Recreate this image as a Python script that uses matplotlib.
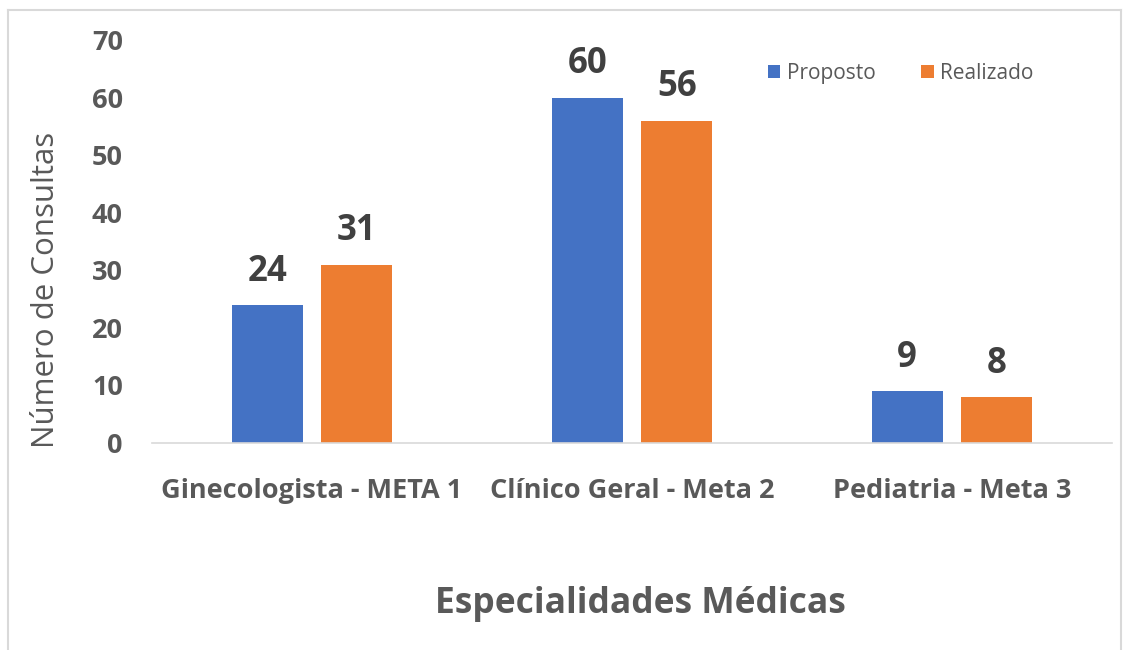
import numpy as np
import matplotlib.pyplot as plt
from matplotlib.lines import Line2D

plt.rcParams['font.family'] = ['Open Sans', 'DejaVu Sans']

categorias = ['Ginecologista - META 1', 'Clínico Geral - Meta 2', 'Pediatria - Meta 3']
proposto = [24, 60, 9]
realizado = [31, 56, 8]
yticks = [0, 10, 20, 30, 40, 50, 60, 70]

azul = '#4472C4'
laranja = '#ED7D31'
cinza = '#595959'

fig = plt.figure(figsize=(11.31, 6.5), dpi=100)
ax = fig.add_axes([152/1131, 1 - 443/650, 960/1131, 403/650])

x = np.arange(len(categorias))
w = 0.222
off = 0.14
b1 = ax.bar(x - off, proposto, w, color=azul, label='Proposto')
b2 = ax.bar(x + off, realizado, w, color=laranja, label='Realizado')

for bars in (b1, b2):
    for r in bars:
        ax.annotate(f'{r.get_height():g}', (r.get_x() + r.get_width()/2, r.get_height()),
                    xytext=(0, 11), textcoords='offset points', ha='center', va='bottom',
                    fontsize=25, fontweight='bold', color='#404040')

ax.set_xlim(-0.5, 2.5)
ax.set_ylim(0, 70)
ax.set_yticks(yticks)
ax.set_xticks(x)
ax.set_xticklabels(categorias)
ax.tick_params(length=0, colors=cinza)
for lab in ax.get_yticklabels():
    lab.set_fontsize(19.5)
    lab.set_fontweight('bold')
for lab in ax.get_xticklabels():
    lab.set_fontsize(19.5)
    lab.set_fontweight('bold')
ax.tick_params(axis='y', pad=21)
ax.tick_params(axis='x', pad=25)

for s in ['top', 'right', 'left']:
    ax.spines[s].set_visible(False)
ax.spines['bottom'].set_color('#D9D9D9')
ax.spines['bottom'].set_linewidth(1.2)

ax.set_ylabel('Número de Consultas', fontsize=22.5, color=cinza)
ax.yaxis.set_label_coords(-0.095, 0.38)
ax.set_xlabel('Especialidades Médicas', fontsize=25.5, fontweight='bold', color=cinza)
ax.xaxis.set_label_coords(0.509, -0.355)

ax.legend(loc='upper left', bbox_to_anchor=(0.622, 0.99), ncol=2, frameon=False,
          fontsize=15, labelcolor=cinza, handlelength=0.6, handleheight=0.6,
          handletextpad=0.3, columnspacing=2.2)

# borda do gráfico
bx0, bx1, by0 = 8/1131, 1121/1131, 1 - 10/650
for xs, ys in [([bx0, bx1], [by0, by0]), ([bx0, bx0], [by0, 0]), ([bx1, bx1], [by0, 0])]:
    fig.add_artist(Line2D(xs, ys, color='#D9D9D9', lw=1.5, transform=fig.transFigure))

fig.savefig('out.png', dpi=100)
